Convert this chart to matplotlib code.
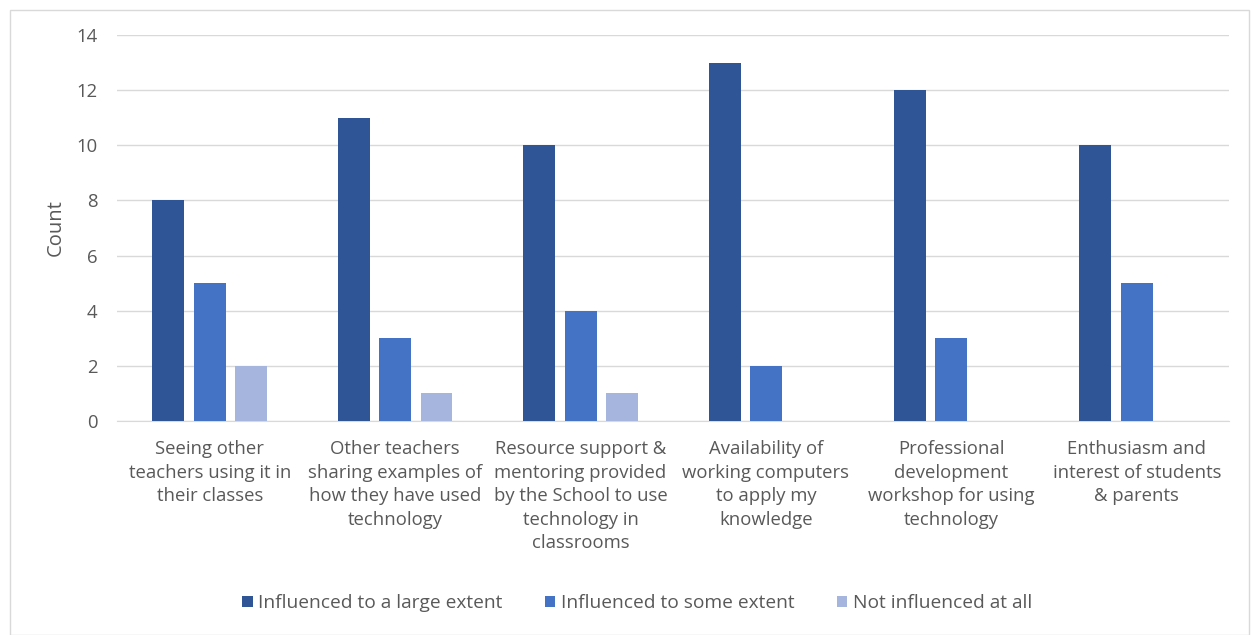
import matplotlib.pyplot as plt
import numpy as np
from matplotlib.patches import Rectangle

plt.rcParams['font.family'] = ['Open Sans', 'DejaVu Sans']

categories = ['Seeing other\nteachers using it in\ntheir classes',
              'Other teachers\nsharing examples of\nhow they have used\ntechnology',
              'Resource support &\nmentoring provided\nby the School to use\ntechnology in\nclassrooms',
              'Availability of\nworking computers\nto apply my\nknowledge',
              'Professional\ndevelopment\nworkshop for using\ntechnology',
              'Enthusiasm and\ninterest of students\n& parents']
large_extent = [8, 11, 10, 13, 12, 10]
some_extent = [5, 3, 4, 2, 3, 5]
not_at_all = [2, 1, 1, 0, 0, 0]

series = [('Influenced to a large extent', large_extent, '#2F5597'),
          ('Influenced to some extent', some_extent, '#4472C4'),
          ('Not influenced at all', not_at_all, '#A5B5DD')]

fig = plt.figure(figsize=(12.52, 6.35), dpi=100)
ax = fig.add_axes([0.0935, 0.337, 0.8885, 0.608])

x = np.arange(len(categories))
w = 0.172
step = 0.223
for i, (name, vals, col) in enumerate(series):
    ax.bar(x + (i - 1) * step, vals, width=w, color=col, label=name, zorder=3)

ax.set_xlim(-0.5, len(categories) - 0.5)
ax.set_ylim(0, 14)
ax.set_yticks(range(0, 15, 2))
ax.yaxis.grid(True, color='#D9D9D9', linewidth=1, zorder=0)
ax.set_xticks(x)
ax.set_xticklabels(categories, fontsize=13.3, color='#595959', linespacing=1.39)
ax.tick_params(axis='y', length=0, labelsize=13.3, labelcolor='#595959', pad=14)
ax.tick_params(axis='x', length=0, pad=14)
for side in ['top', 'right', 'left']:
    ax.spines[side].set_visible(False)
ax.spines['bottom'].set_color('#D9D9D9')
ax.set_ylabel('Count', fontsize=14.5, color='#595959', labelpad=8)

fig.legend(loc='center', bbox_to_anchor=(0.509, 0.05), ncol=3, frameon=False,
           fontsize=13.8, labelcolor='#595959', handlelength=0.55, handleheight=0.55,
           handletextpad=0.3, columnspacing=2.2)

fig.patches.append(Rectangle((0.008, 0.0), 0.99, 0.985, transform=fig.transFigure,
                             fill=False, edgecolor='#D9D9D9', linewidth=1))

fig.savefig('out.png', dpi=100)
